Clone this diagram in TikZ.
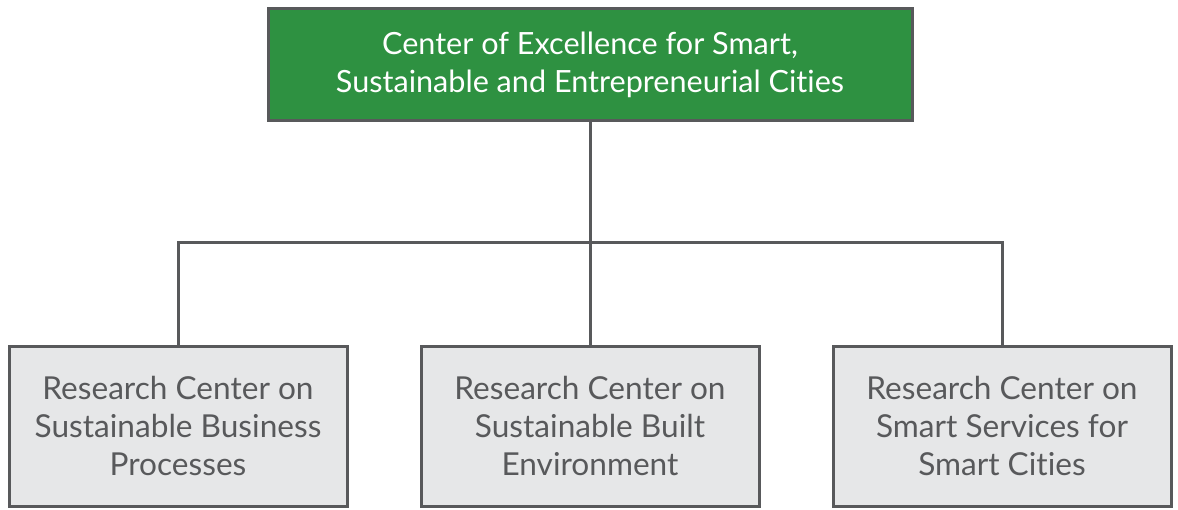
\documentclass[tikz,border=0pt]{standalone}
\usepackage{fontspec}
\setmainfont[Ligatures=NoCommon]{Lato}
\definecolor{boxgreen}{HTML}{2E9141}
\definecolor{boxgray}{HTML}{E6E7E8}
\definecolor{linegray}{HTML}{58595B}
\tikzset{
	head/.style={draw=linegray, line width=1.5pt, fill=boxgreen, text=white, align=center, minimum width=322pt, minimum height=56pt, font=\fontsize{15.3}{19}\selectfont},
	centre/.style={draw=linegray, line width=1.5pt, fill=boxgray, text=linegray, align=center, minimum width=169pt, minimum height=80pt, font=\fontsize{15.8}{19}\selectfont},
	link/.style={draw=linegray, line width=1.5pt}
}
\begin{document}
\begin{tikzpicture}[x=0.5pt, y=-0.5pt]
	\useasboundingbox (0,0) rectangle (1178,509);
	\node[head] (coe) at (590,64.5) {Center of Excellence for Smart,\\Sustainable and Entrepreneurial Cities};
	\node[centre] (business) at (178,426) {Research Center on\\Sustainable Business\\Processes};
	\node[centre] (built) at (590,426) {Research Center on\\Sustainable Built\\Environment};
	\node[centre] (services) at (1002,426) {Research Center on\\Smart Services for\\Smart Cities};
	\coordinate (bar) at (590,242);
	\draw[link] (coe.south) -- (built.north);
	\draw[link] (business.north) |- (bar) -| (services.north);
\end{tikzpicture}
\end{document}
